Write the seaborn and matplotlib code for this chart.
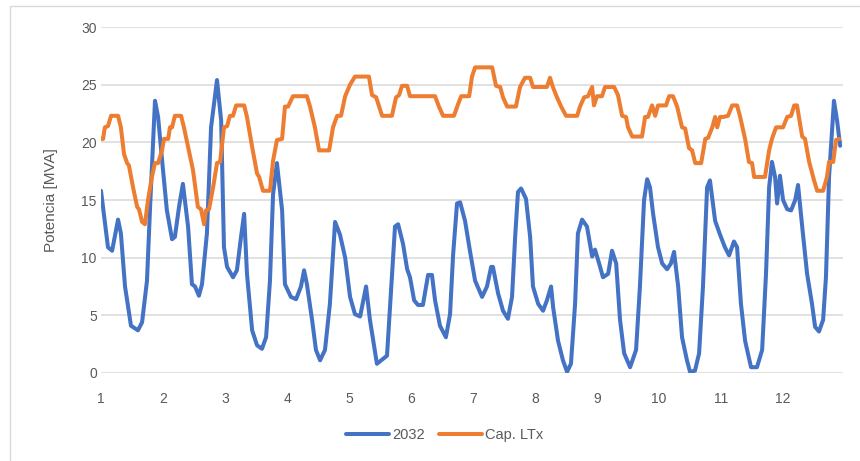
import matplotlib
matplotlib.use("Agg")
import matplotlib.pyplot as plt
import seaborn as sns
import pandas as pd
from matplotlib.patches import Rectangle

# hour index (24 points per month, months 1..12) and values in MVA
hours_2032 = [0.0, 2.7, 4.3, 6.6, 7.7, 9.3, 11.6, 14.3, 15.9, 17.8, 19.0, 20.9, 22.1, 24.0, 25.5, 27.5,
              28.6, 30.2, 31.7, 33.7, 35.2, 36.4, 37.9, 39.1, 41.0, 42.6, 44.9, 46.5, 47.6, 48.8, 51.1,
              52.6, 54.2, 55.4, 56.5, 58.5, 60.4, 62.3, 63.9, 65.4, 66.6, 68.1, 70.1, 71.2, 73.5, 75.5,
              77.4, 78.6, 79.7, 81.7, 83.2, 84.8, 86.7, 88.6, 90.6, 92.5, 94.5, 96.4, 98.3, 100.3, 102.6,
              104.1, 106.8, 110.7, 113.8, 115.0, 116.9, 118.5, 119.6, 121.2, 122.7, 124.6, 126.6, 128.1,
              129.3, 131.2, 133.5, 135.1, 136.3, 137.8, 139.0, 140.9, 142.8, 144.8, 147.5, 149.4, 151.0,
              151.7, 153.7, 155.6, 157.5, 159.1, 160.3, 161.4, 162.6, 164.5, 166.1, 167.2, 169.2, 171.1,
              172.6, 174.2, 175.0, 176.9, 178.8, 180.4, 181.9, 183.5, 184.6, 186.2, 188.1, 190.1, 191.2,
              192.8, 194.3, 196.3, 197.8, 199.4, 200.9, 202.5, 204.8, 207.1, 208.6, 210.2, 211.4, 212.5,
              213.7, 215.6, 217.2, 219.1, 220.6, 221.8, 223.4, 224.9, 226.8, 228.0, 229.9, 231.5, 233.0,
              234.6, 235.7, 237.7, 239.6, 241.5, 243.1, 245.0, 246.2, 247.7, 249.3, 251.6, 253.9, 255.9,
              257.4, 258.6, 259.7, 260.9, 261.7, 262.8, 264.0, 265.6, 267.1, 268.7, 269.8, 271.4, 273.3,
              275.2, 276.4, 277.9, 279.5, 280.6, 281.8, 283.7, 284.9, 286.1]
values_2032 = [15.8, 10.9, 10.6, 13.3, 12.1, 7.5, 4.1, 3.7, 4.4, 8.0, 14.4, 23.6, 22.2, 17.6, 14.1, 11.6,
               11.8, 14.4, 16.4, 12.7, 7.7, 7.5, 6.7, 7.7, 12.1, 21.3, 25.4, 21.9, 10.9, 9.2, 8.3,
               8.9, 11.8, 13.8, 8.6, 3.7, 2.4, 2.1, 3.1, 8.0, 15.5, 18.2, 14.1, 7.7, 6.6, 6.4,
               7.5, 8.9, 7.7, 4.6, 2.0, 1.1, 2.0, 6.0, 13.1, 12.0, 10.0, 6.6, 5.1, 4.9, 7.5,
               4.6, 0.8, 1.5, 12.7, 12.9, 11.2, 9.0, 8.3, 6.3, 5.9, 5.9, 8.5, 8.5,
               6.3, 4.1, 3.1, 5.1, 10.3, 14.7, 14.8, 13.2, 10.6, 8.0, 6.6, 7.5, 9.2,
               9.2, 6.9, 5.4, 4.7, 6.6, 11.8, 15.7, 16.0, 15.1, 11.8, 7.5, 6.0, 5.4,
               6.3, 7.5, 5.7, 2.8, 1.1, 0.1, 0.8, 6.0, 12.1, 13.3, 12.7, 10.1, 10.7,
               9.5, 8.3, 8.6, 10.6, 9.5, 4.6, 1.7, 0.5, 2.0, 7.5, 15.0, 16.8, 16.1,
               13.8, 10.9, 9.5, 9.0, 9.5, 10.5, 7.5, 3.1, 1.1, 0.1, 0.2, 1.7, 7.5,
               16.1, 16.7, 13.2, 12.0, 10.9, 10.2, 11.4, 10.9, 6.0, 2.8, 0.5, 0.5, 2.0,
               8.6, 16.1, 18.3, 17.0, 14.7, 17.1, 15.0, 14.2, 14.1, 15.0, 16.3, 12.7, 8.6,
               6.0, 4.0, 3.6, 4.6, 8.3, 17.0, 23.6, 21.9, 19.7]

hours_cap = [0.0, 0.8, 1.5, 2.7, 3.9, 6.6, 7.7, 8.9, 10.1, 10.8, 12.4, 14.0, 14.7, 15.9, 17.0, 18.2,
             19.7, 20.9, 22.1, 23.6, 24.4, 26.0, 26.7, 27.5, 28.6, 31.0, 32.1, 33.7, 35.6, 37.5, 38.7,
             39.9, 40.6, 41.8, 43.4, 44.9, 46.1, 47.6, 48.8, 49.9, 51.1, 52.3, 55.4, 56.5, 58.5, 60.4,
             61.2, 62.7, 65.4, 66.6, 68.1, 70.1, 71.2, 72.4, 74.3, 79.7, 80.9, 82.8, 84.4, 88.3, 89.8,
             91.4, 92.9, 94.5, 96.4, 98.3, 103.7, 104.9, 106.5, 108.8, 112.6, 114.2, 115.4, 116.5, 118.5,
             119.6, 129.3, 130.8, 132.4, 136.6, 138.2, 139.4, 142.5, 143.6, 144.8, 151.4, 152.9, 154.5,
             155.6, 157.2, 160.6, 162.2, 164.1, 166.1, 167.2, 172.6, 173.8, 174.9, 176.5, 178.1, 180.0,
             184.3, 185.4, 187.0, 188.5, 190.1, 190.8, 192.0, 193.9, 195.1, 198.6, 200.1, 201.7, 203.2,
             204.0, 205.6, 209.4, 210.6, 211.7, 213.3, 214.5, 215.6, 218.7, 219.9, 221.4, 223.0, 224.9,
             226.1, 227.6, 228.8, 230.0, 232.3, 233.9, 235.0, 236.6, 237.7, 238.5, 239.6, 240.8, 242.7,
             244.3, 246.2, 247.4, 249.3, 250.8, 252.0, 252.8, 257.0, 258.6, 259.7, 261.3, 264.0, 265.6,
             267.1, 268.3, 269.4, 271.4, 272.5, 274.1, 276.0, 277.2, 279.5, 281.0, 281.8, 283.4, 284.5,
             285.7]
values_cap = [20.3, 20.3, 21.3, 21.4, 22.3, 22.3, 21.3, 19.0, 18.2, 18.0, 16.1, 14.4, 14.2, 13.1, 12.9, 15.0,
              17.0, 18.2, 18.2, 19.3, 20.3, 20.3, 21.3, 21.3, 22.3, 22.3, 21.3, 19.6, 17.6, 14.4, 14.2,
              12.9, 14.1, 14.2, 16.1, 18.2, 18.3, 21.3, 21.4, 22.3, 22.3, 23.2, 23.2, 22.2, 19.6, 17.3,
              17.0, 15.8, 15.8, 18.4, 20.2, 20.3, 23.1, 23.1, 24.0, 24.0, 23.1, 21.3, 19.3, 19.3, 21.3,
              22.3, 22.3, 24.0, 25.0, 25.7, 25.7, 24.1, 23.9, 22.3, 22.3, 23.9, 24.1, 24.9, 24.9,
              24.0, 24.0, 23.1, 22.3, 22.3, 23.3, 24.0, 24.0, 25.7, 26.5, 26.5, 24.9, 24.8,
              23.9, 23.1, 23.1, 24.8, 25.6, 25.6, 24.8, 24.8, 25.6, 24.8, 23.9, 23.1, 22.3,
              22.3, 23.1, 23.9, 24.0, 24.8, 23.2, 24.0, 24.0, 24.8, 24.8, 24.1, 22.3, 22.2,
              21.3, 20.5, 20.5, 22.2, 22.2, 23.2, 22.3, 23.2, 23.2, 24.0, 24.0, 23.1, 21.3,
              21.2, 19.5, 19.3, 18.2, 18.2, 20.3, 20.4, 21.3, 22.2, 21.3, 22.2, 22.2, 22.3,
              23.2, 23.2, 22.2, 20.3, 18.3, 18.2, 17.0, 17.0, 19.3, 20.3, 21.3, 21.3, 22.2,
              22.3, 23.2, 23.2, 20.5, 20.3, 18.3, 16.7, 15.8, 15.8, 17.0, 18.3, 18.3, 20.2,
              20.3]

month_labels = ["1", "2", "3", "4", "5", "6", "7", "8", "9", "10", "11", "12"]
y_ticks = [0, 5, 10, 15, 20, 25, 30]

sns.set_style("white")
plt.rcParams["font.family"] = ["Liberation Sans Narrow", "Liberation Sans", "DejaVu Sans"]

text_color = "#595959"
grid_color = "#D9D9D9"

fig = plt.figure(figsize=(8.6, 4.61), dpi=100)
ax = fig.add_axes([101 / 860, 1 - 373 / 461, (843 - 101) / 860, (373 - 27) / 461])

df_a = pd.DataFrame({"hour": hours_2032, "MVA": values_2032})
df_b = pd.DataFrame({"hour": hours_cap, "MVA": values_cap})
sns.lineplot(data=df_a, x="hour", y="MVA", ax=ax, color="#4472C4", linewidth=2.9,
             label="2032", sort=False, zorder=3, solid_joinstyle="round", solid_capstyle="round")
sns.lineplot(data=df_b, x="hour", y="MVA", ax=ax, color="#ED7D31", linewidth=2.9,
             label="Cap. LTx", sort=False, zorder=3, solid_joinstyle="round", solid_capstyle="round")

ax.set_xlim(0, 287.2)
ax.set_ylim(0, 30)
ax.set_xticks([i * 24 for i in range(len(month_labels))])
ax.set_xticklabels(month_labels)
ax.set_yticks(y_ticks)
ax.grid(axis="y", color=grid_color, linewidth=1.1)
ax.grid(axis="x", visible=False)
for s in ax.spines.values():
    s.set_visible(False)
ax.tick_params(axis="both", length=0, labelsize=10, labelcolor=text_color)
ax.tick_params(axis="x", pad=14)
ax.tick_params(axis="y", pad=3)
ax.set_xlabel("")
ax.set_ylabel("Potencia [MVA]", fontsize=11, color=text_color, labelpad=17)

handles, labels = ax.get_legend_handles_labels()
ax.get_legend().remove()
fig.legend(handles, labels, loc="center", bbox_to_anchor=(445 / 860, 1 - 435 / 461), ncol=2,
           frameon=False, fontsize=10.5, handlelength=2.9, handletextpad=0.25, columnspacing=1.0,
           labelcolor=text_color)

fig.patches.append(Rectangle((10 / 860, -0.02), 1.0, 1 - 6 / 461 + 0.02, transform=fig.transFigure,
                             fill=False, edgecolor=grid_color, linewidth=1.0))

fig.savefig("out.png", dpi=100)
